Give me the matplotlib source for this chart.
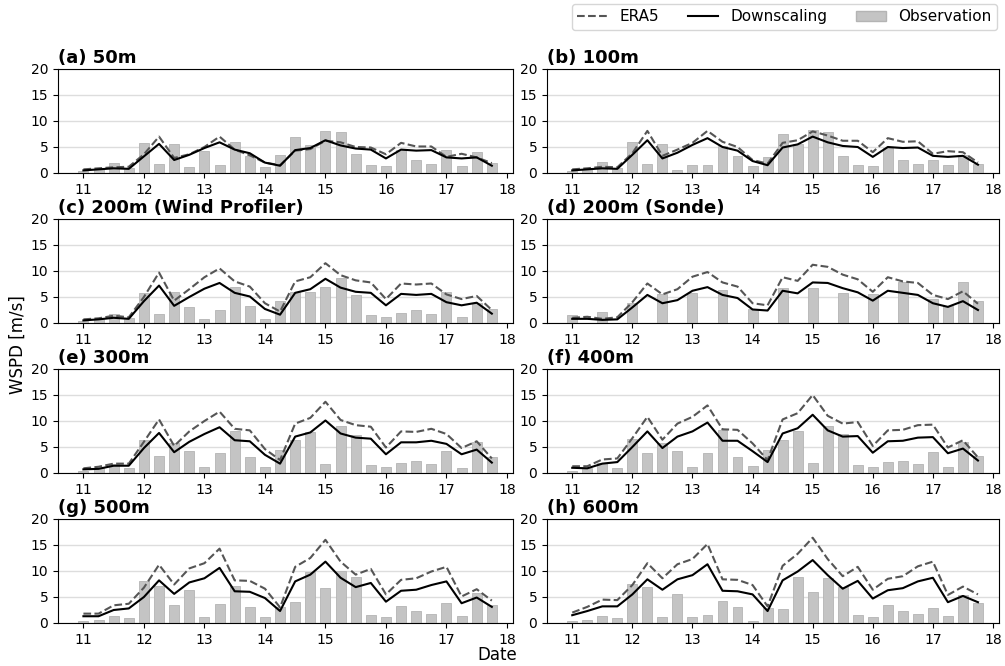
import numpy as np
import matplotlib
matplotlib.use("Agg")
import matplotlib.pyplot as plt
from matplotlib.patches import Patch
from matplotlib.lines import Line2D

days = [11 + 0.25 * i for i in range(28)]
xticks = [11, 12, 13, 14, 15, 16, 17, 18]
titles = ["(a) 50m", "(b) 100m", "(c) 200m (Wind Profiler)", "(d) 200m (Sonde)",
          "(e) 300m", "(f) 400m", "(g) 500m", "(h) 600m"]

nan = np.nan
obs_50 = [0.3, 0.8, 2.0, 1.0, 5.7, 1.7, 5.5, 1.2, 4.3, 1.6, 6.0, 3.2, 1.1, 3.4,
          6.9, 5.3, 8.1, 7.8, 3.7, 1.5, 1.3, 4.5, 2.5, 1.7, 4.4, 1.3, 4.0, 2.0]
ds_50 = [0.5, 0.7, 0.9, 0.8, 3.2, 5.6, 2.5, 3.5, 4.8, 5.9, 4.5, 3.8, 2.0, 1.4,
         4.4, 4.8, 6.3, 5.3, 4.7, 4.5, 2.8, 4.5, 4.3, 4.4, 3.0, 2.8, 3.0, 1.4]
era_50 = [0.7, 0.9, 1.1, 1.2, 3.6, 7.0, 2.9, 3.6, 5.0, 7.0, 4.5, 3.4, 2.0, 1.5,
          4.3, 4.6, 6.2, 5.9, 5.0, 4.9, 3.6, 5.8, 5.1, 5.1, 3.1, 3.7, 3.0, 1.9]

obs_100 = [0.3, 0.7, 2.1, 1.0, 5.9, 1.8, 5.5, 0.5, 1.6, 1.5, 5.2, 3.2, 1.4, 3.0,
           7.5, 5.5, 8.2, 7.8, 3.2, 1.5, 1.3, 4.8, 2.5, 1.7, 2.5, 1.5, 3.5, 1.7]
ds_100 = [0.5, 0.7, 0.9, 0.8, 3.5, 6.3, 2.8, 3.9, 5.4, 6.7, 5.0, 4.3, 2.3, 1.5,
          4.9, 5.5, 7.0, 5.9, 5.2, 5.0, 3.1, 5.0, 4.8, 4.9, 3.3, 3.1, 3.3, 1.6]
era_100 = [0.7, 0.9, 1.2, 1.1, 3.8, 8.1, 3.3, 4.5, 5.8, 8.1, 6.0, 5.0, 2.5, 1.8,
           5.8, 6.3, 8.0, 7.2, 6.2, 6.2, 4.0, 6.7, 6.0, 6.1, 3.7, 4.2, 4.0, 2.0]

obs_200wp = [0.3, 0.8, 1.8, 1.0, 5.7, 1.8, 5.9, 3.0, 0.8, 2.5, 7.0, 3.2, 0.8, 4.2,
             6.0, 6.0, 6.9, 8.6, 5.3, 1.5, 1.2, 1.9, 2.5, 1.7, 6.0, 1.2, 3.9, 2.6]
ds_200wp = [0.5, 0.7, 1.0, 0.8, 4.2, 7.2, 3.3, 5.0, 6.6, 7.7, 5.8, 5.1, 2.7, 1.6,
            5.8, 6.5, 8.5, 6.8, 6.0, 5.8, 3.4, 5.6, 5.4, 5.6, 4.0, 3.4, 3.9, 1.8]
era_200wp = [0.7, 0.9, 1.4, 1.1, 5.0, 9.7, 4.3, 6.5, 8.8, 10.5, 8.0, 7.0, 3.8, 2.2,
             8.0, 8.8, 11.5, 9.2, 8.2, 7.8, 4.6, 7.6, 7.4, 7.6, 5.5, 4.6, 5.2, 2.5]

obs_200s = [1.6, nan, 2.1, nan, 3.8, nan, 5.6, nan, 5.7, nan, 6.3, nan, 2.7, nan,
            6.8, nan, 6.7, nan, 5.7, nan, 5.6, nan, 7.8, nan, 4.7, 3.3, 7.8, 4.2]
ds_200s = [0.8, 0.8, 0.6, 0.7, 3.0, 5.4, 3.8, 4.4, 6.2, 6.9, 5.4, 4.8, 2.6, 2.4,
           6.2, 5.7, 7.8, 7.7, 6.7, 5.9, 4.3, 6.2, 5.8, 5.4, 3.8, 3.1, 4.2, 2.5]
era_200s = [1.0, 1.2, 0.8, 1.1, 4.0, 7.6, 5.5, 6.5, 8.9, 9.8, 7.8, 7.0, 3.8, 3.4,
            8.8, 8.1, 11.2, 10.8, 9.3, 8.4, 6.0, 8.8, 8.0, 7.7, 5.4, 4.6, 6.1, 3.7]

obs_300 = [0.3, 1.0, 1.8, 1.0, 6.3, 3.3, 5.8, 4.2, 1.1, 3.9, 8.1, 3.0, 1.2, 4.5,
           6.4, 7.8, 1.8, 9.0, 7.3, 1.5, 1.2, 2.0, 2.4, 1.7, 4.3, 1.0, 6.0, 3.1]
ds_300 = [0.7, 0.8, 1.4, 1.4, 4.8, 7.7, 4.0, 6.0, 7.5, 8.8, 6.3, 6.1, 3.5, 1.8,
          7.0, 7.8, 10.1, 7.6, 6.8, 6.6, 3.6, 5.9, 5.9, 6.2, 5.6, 3.6, 4.5, 2.0]
era_300 = [0.9, 1.2, 1.8, 1.8, 6.0, 10.3, 5.2, 8.0, 10.0, 11.8, 8.5, 8.2, 4.6, 2.5,
           9.5, 10.6, 13.7, 10.2, 9.2, 8.9, 4.9, 8.0, 7.9, 8.5, 7.5, 4.8, 6.1, 2.8]

obs_400 = [0.4, 1.0, 2.0, 1.0, 6.5, 3.8, 5.8, 4.2, 1.1, 3.9, 8.2, 3.0, 1.3, 4.4,
           6.4, 8.1, 1.9, 9.1, 7.5, 1.5, 1.2, 2.2, 2.4, 1.7, 4.1, 1.1, 6.0, 3.2]
ds_400 = [1.0, 0.9, 1.8, 2.1, 5.0, 8.0, 4.8, 7.0, 8.0, 9.7, 6.2, 6.2, 4.2, 2.1,
          7.6, 8.6, 11.2, 8.2, 7.0, 7.1, 3.9, 6.1, 6.2, 6.8, 6.9, 3.8, 4.7, 2.4]
era_400 = [1.3, 1.3, 2.6, 2.8, 6.7, 10.8, 6.4, 9.5, 10.8, 13.0, 8.4, 8.3, 5.7, 2.5,
           10.3, 11.5, 15.0, 11.0, 9.5, 9.8, 5.2, 8.2, 8.3, 9.2, 9.3, 4.9, 6.3, 3.0]

obs_500 = [0.4, 0.6, 1.4, 1.0, 8.0, 7.2, 3.5, 6.3, 1.2, 3.6, 7.2, 3.0, 1.1, 3.0,
           4.1, 9.8, 6.7, 10.0, 8.8, 1.5, 1.2, 3.3, 2.4, 1.7, 3.8, 1.4, 5.8, 3.4]
ds_500 = [1.3, 1.3, 2.5, 2.8, 5.0, 8.2, 5.6, 7.8, 8.6, 10.6, 6.1, 6.0, 4.8, 2.3,
          8.0, 9.3, 11.8, 8.7, 6.9, 7.7, 4.1, 6.2, 6.4, 7.3, 8.0, 3.8, 4.9, 3.1]
era_500 = [1.8, 1.8, 3.4, 3.7, 6.8, 11.2, 7.4, 10.5, 11.5, 14.3, 8.2, 8.1, 6.6, 3.0,
           10.8, 12.5, 16.0, 11.8, 9.3, 10.4, 5.5, 8.3, 8.6, 9.9, 10.8, 5.1, 6.5, 4.3]

obs_600 = [0.4, 0.6, 1.4, 1.0, 7.5, 6.9, 1.2, 5.5, 1.2, 1.6, 4.3, 3.1, 0.4, 2.9,
           2.7, 8.9, 5.9, 8.7, 7.0, 1.5, 1.2, 3.5, 2.4, 1.7, 2.8, 1.4, 5.4, 3.9]
ds_600 = [1.5, 2.3, 3.2, 3.2, 5.5, 8.4, 6.4, 8.4, 9.2, 11.3, 6.2, 6.1, 5.5, 2.3,
          8.2, 9.9, 12.1, 9.2, 6.6, 8.1, 4.7, 6.3, 6.7, 8.0, 8.7, 4.0, 5.2, 4.0]
era_600 = [2.0, 3.1, 4.5, 4.4, 7.3, 11.5, 8.6, 11.3, 12.3, 15.2, 8.4, 8.3, 7.3, 3.2,
           11.0, 13.3, 16.4, 12.3, 9.0, 10.8, 6.4, 8.5, 9.0, 10.9, 11.8, 5.4, 7.0, 5.5]

obs_all = [obs_50, obs_100, obs_200wp, obs_200s, obs_300, obs_400, obs_500, obs_600]
ds_all = [ds_50, ds_100, ds_200wp, ds_200s, ds_300, ds_400, ds_500, ds_600]
era_all = [era_50, era_100, era_200wp, era_200s, era_300, era_400, era_500, era_600]

fig = plt.figure(figsize=(10.05, 6.66), dpi=100)
W, H = 1005, 666
lefts = [58, 547]
widths = [455, 452]
tops = [69, 219, 369, 519]
ah = 104

for k in range(8):
    r, c = divmod(k, 2)
    ax = fig.add_axes([lefts[c] / W, 1 - (tops[r] + ah) / H, widths[c] / W, ah / H])
    ax.bar(days, obs_all[k], width=0.165, color="#c4c4c4", edgecolor="#b4b4b4",
           linewidth=0.6, zorder=2)
    ax.plot(days, era_all[k], linestyle="--", color="#555555", linewidth=1.5, zorder=3)
    ax.plot(days, ds_all[k], color="black", linewidth=1.5, zorder=4)
    ax.set_ylim(0, 20)
    ax.set_yticks([0, 5, 10, 15, 20])
    ax.set_xlim(10.58, 18.1)
    ax.set_xticks(xticks)
    ax.set_xticklabels([str(t) for t in xticks])
    ax.tick_params(labelsize=10)
    ax.yaxis.grid(True, color="#dddddd", linewidth=1.0, zorder=0)
    ax.set_axisbelow(True)
    ax.set_title(titles[k], loc="left", fontsize=13, fontweight="bold", pad=4)

fig.text(18 / W, 1 - 345 / H, "WSPD [m/s]", rotation=90, va="center", ha="center", fontsize=12)
fig.text(497 / W, 1 - 655 / H, "Date", va="center", ha="center", fontsize=12)

handles = [Line2D([0], [0], linestyle="--", color="#555555", linewidth=1.5),
           Line2D([0], [0], color="black", linewidth=1.5),
           Patch(facecolor="#c4c4c4", edgecolor="#b4b4b4")]
fig.legend(handles, ["ERA5", "Downscaling", "Observation"], ncol=3,
           loc="upper right", bbox_to_anchor=(997 / W, 1 - 4 / H), fontsize=11,
           frameon=True, columnspacing=1.85, handlelength=2.0, borderaxespad=0,
           borderpad=0.35)

fig.savefig("out.png", dpi=100)
